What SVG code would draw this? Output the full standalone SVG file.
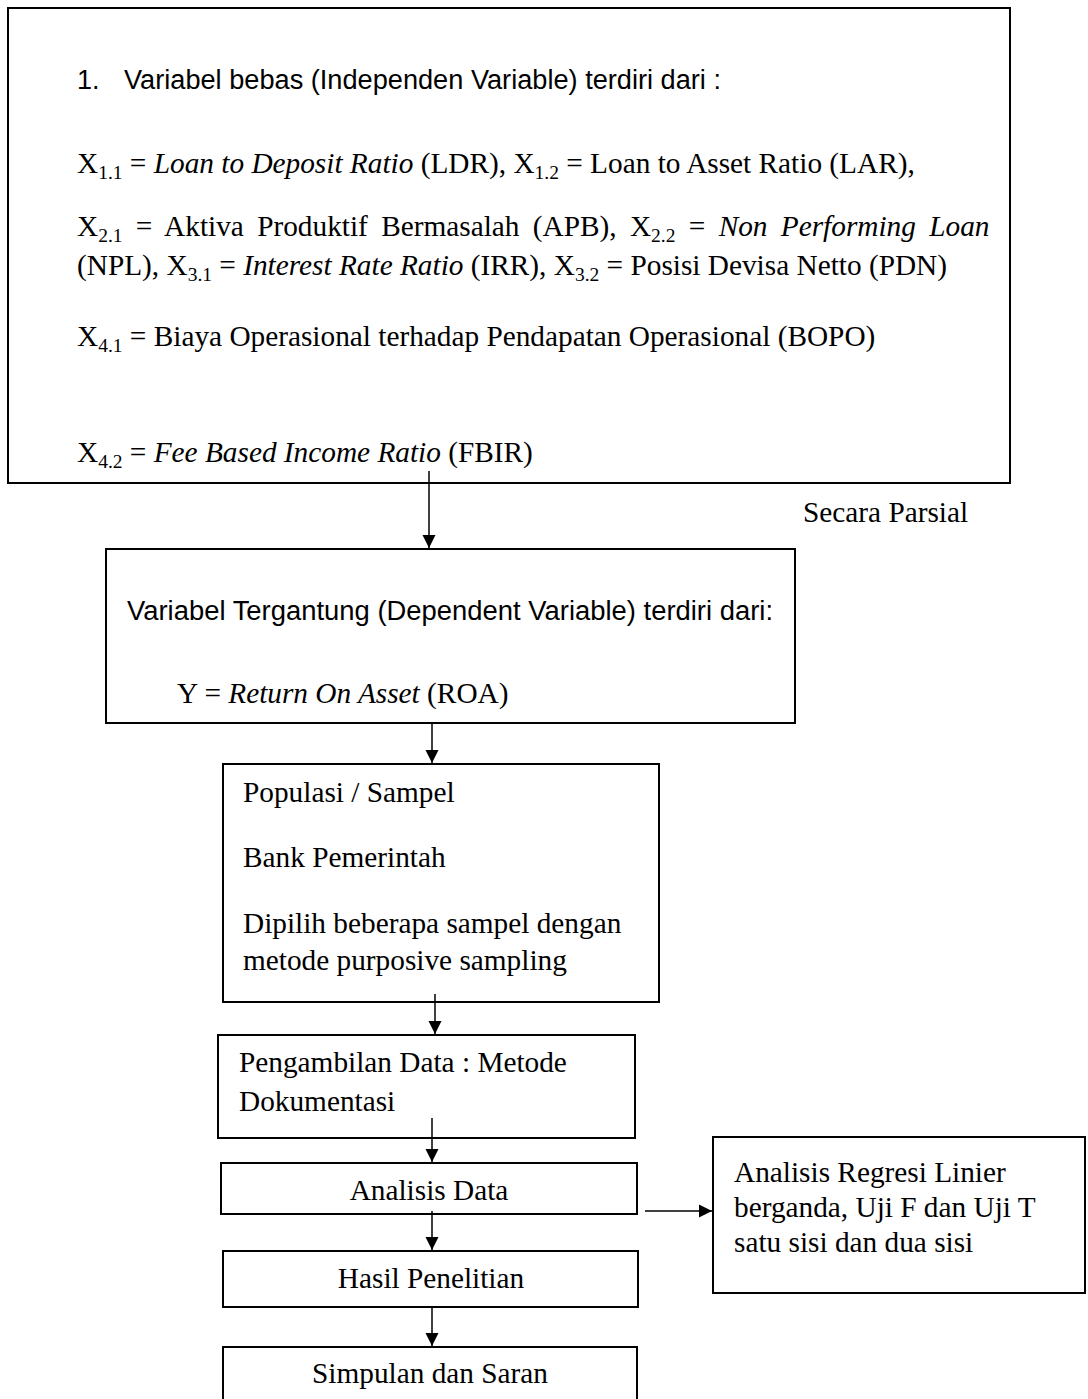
<svg xmlns="http://www.w3.org/2000/svg" width="1088" height="1399" viewBox="0 0 1088 1399">
<defs>
<style>
.box{fill:#fff;stroke:#000;stroke-width:2}
.ln{fill:none;stroke:#000;stroke-width:1.5}
.t{font-family:"Liberation Serif","Times New Roman",serif;font-size:29.3px;fill:#000}
.s{font-family:"Liberation Sans",Arial,sans-serif;font-size:27px;fill:#000}
.i{font-style:italic}
.sub{font-size:19.5px}
</style>
<marker id="ah" viewBox="0 0 10 10" refX="10" refY="5" markerUnits="userSpaceOnUse" markerWidth="13" markerHeight="15" orient="auto">
<path d="M0,0 L10,5 L0,10 z" fill="#000"/>
</marker>
</defs>
<rect width="1088" height="1399" fill="#fff"/>

<g id="node-independent">
<rect class="box" x="8" y="8" width="1002" height="475"/>
<text class="s" x="77" y="89">1.</text>
<text class="s" x="124" y="89" textLength="597" lengthAdjust="spacingAndGlyphs">Variabel bebas (Independen Variable) terdiri dari :</text>
<text class="t" x="77" y="173">X<tspan class="sub" dy="6">1.1</tspan><tspan dy="-6"> = </tspan><tspan class="i">Loan to Deposit Ratio</tspan> (LDR), X<tspan class="sub" dy="6">1.2</tspan><tspan dy="-6"> = Loan to Asset Ratio (LAR),</tspan></text>
<text class="t" x="77" y="236" word-spacing="6">X<tspan class="sub" dy="6">2.1</tspan><tspan dy="-6"> = Aktiva Produktif Bermasalah (APB), X</tspan><tspan class="sub" dy="6">2.2</tspan><tspan dy="-6"> = </tspan><tspan class="i">Non Performing Loan</tspan></text>
<text class="t" x="77" y="275">(NPL), X<tspan class="sub" dy="6">3.1</tspan><tspan dy="-6"> = </tspan><tspan class="i">Interest Rate Ratio</tspan> (IRR), X<tspan class="sub" dy="6">3.2</tspan><tspan dy="-6"> = Posisi Devisa Netto (PDN)</tspan></text>
<text class="t" x="77" y="346">X<tspan class="sub" dy="6">4.1</tspan><tspan dy="-6"> = Biaya Operasional terhadap Pendapatan Operasional (BOPO)</tspan></text>
<text class="t" x="77" y="462">X<tspan class="sub" dy="6">4.2</tspan><tspan dy="-6"> = </tspan><tspan class="i">Fee Based Income Ratio</tspan> (FBIR)</text>
</g>

<g id="label-parsial">
<text class="t" x="803" y="522">Secara Parsial</text>
</g>

<g id="node-dependent">
<rect class="box" x="106" y="549" width="689" height="174"/>
<text class="s" x="127" y="620" textLength="646" lengthAdjust="spacingAndGlyphs">Variabel Tergantung (Dependent Variable) terdiri dari:</text>
<text class="t" x="177" y="703">Y = <tspan class="i">Return On Asset</tspan> (ROA)</text>
</g>

<g id="node-populasi">
<rect class="box" x="223" y="764" width="436" height="238"/>
<text class="t" x="243" y="802">Populasi / Sampel</text>
<text class="t" x="243" y="867">Bank Pemerintah</text>
<text class="t" x="243" y="933">Dipilih beberapa sampel dengan</text>
<text class="t" x="243" y="970">metode purposive sampling</text>
</g>

<g id="node-pengambilan">
<rect class="box" x="218" y="1035" width="417" height="103"/>
<text class="t" x="239" y="1072">Pengambilan Data : Metode</text>
<text class="t" x="239" y="1111">Dokumentasi</text>
</g>

<g id="node-analisis">
<rect class="box" x="221" y="1163" width="416" height="51"/>
<text class="t" x="429" y="1200" text-anchor="middle">Analisis Data</text>
</g>

<g id="node-regresi">
<rect class="box" x="713" y="1137" width="372" height="156"/>
<text class="t" x="734" y="1182">Analisis Regresi Linier</text>
<text class="t" x="734" y="1217">berganda, Uji F dan Uji T</text>
<text class="t" x="734" y="1252">satu sisi dan dua sisi</text>
</g>

<g id="node-hasil">
<rect class="box" x="223" y="1251" width="415" height="56"/>
<text class="t" x="431" y="1288" text-anchor="middle">Hasil Penelitian</text>
</g>

<g id="node-simpulan">
<rect class="box" x="223" y="1347" width="414" height="70"/>
<text class="t" x="430" y="1383" text-anchor="middle">Simpulan dan Saran</text>
</g>

<g id="connectors">
<line class="ln" x1="429" y1="471" x2="429" y2="548" marker-end="url(#ah)"/>
<line class="ln" x1="432" y1="722" x2="432" y2="763" marker-end="url(#ah)"/>
<line class="ln" x1="435" y1="994" x2="435" y2="1034" marker-end="url(#ah)"/>
<line class="ln" x1="432" y1="1118" x2="432" y2="1162" marker-end="url(#ah)"/>
<line class="ln" x1="432" y1="1211" x2="432" y2="1250" marker-end="url(#ah)"/>
<line class="ln" x1="432" y1="1306" x2="432" y2="1346" marker-end="url(#ah)"/>
<line class="ln" x1="645" y1="1211" x2="712" y2="1211" marker-end="url(#ah)"/>
</g>
</svg>
